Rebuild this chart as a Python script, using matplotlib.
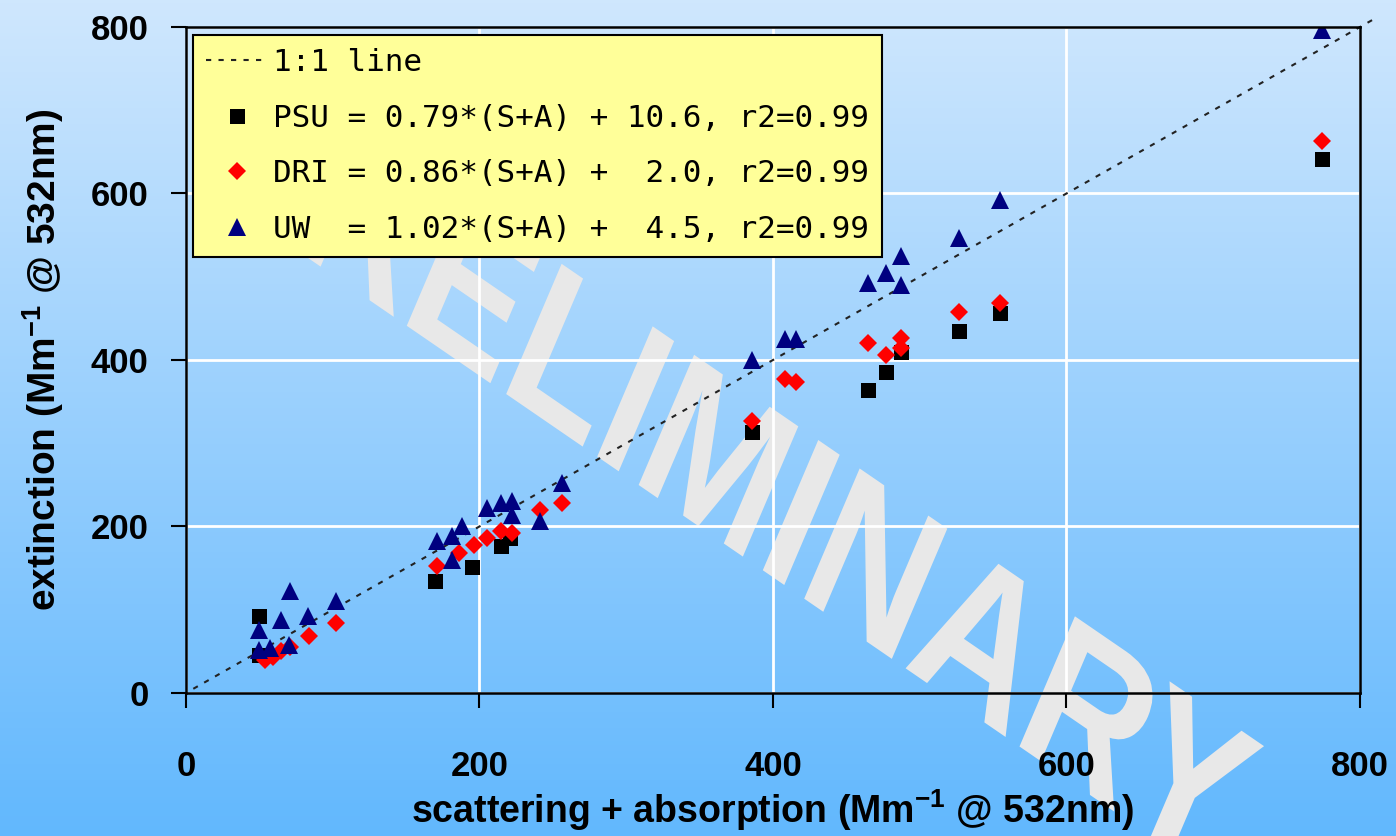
import numpy as np
import matplotlib.pyplot as plt
import matplotlib.transforms as mtransforms
from matplotlib.colors import LinearSegmentedColormap
from matplotlib.textpath import TextPath
from matplotlib.patches import PathPatch
from matplotlib.font_manager import FontProperties

# scattering + absorption (x) vs. measured extinction (y), Mm-1 @ 532nm
psu_x = [50, 50, 170, 195, 215, 221, 386, 465, 477, 487, 527, 555, 774]
psu_y = [92, 46, 134, 151, 177, 186, 313, 364, 386, 410, 435, 456, 641]

dri_x = [54, 59, 65, 71, 84, 102, 171, 186, 196, 205, 215, 222, 241, 256,
         386, 408, 416, 465, 477, 487, 487, 527, 555, 774]
dri_y = [40, 43, 50, 55, 68, 84, 152, 168, 178, 186, 194, 192, 220, 228,
         327, 377, 374, 420, 406, 426, 414, 458, 468, 663]

uw_x = [50, 50, 57, 65, 70, 71, 83, 102, 171, 181, 181, 188, 205, 215, 222,
        222, 241, 256, 386, 408, 416, 465, 477, 487, 487, 527, 555, 774]
uw_y = [76, 52, 54, 88, 58, 122, 92, 110, 182, 160, 188, 200, 222, 228, 230,
        214, 206, 252, 400, 425, 425, 492, 504, 525, 490, 547, 592, 797]

one_x = [5, 812]
one_y = [5, 812]

labels = ["1:1 line",
          "PSU = 0.79*(S+A) + 10.6, r2=0.99",
          "DRI = 0.86*(S+A) +  2.0, r2=0.99",
          "UW  = 1.02*(S+A) +  4.5, r2=0.99"]

ticks = [0, 200, 400, 600, 800]

plt.rcParams['font.family'] = 'Liberation Sans'
plt.rcParams['mathtext.fontset'] = 'custom'
plt.rcParams['mathtext.rm'] = 'Liberation Sans:bold'
plt.rcParams['mathtext.bf'] = 'Liberation Sans:bold'

fig = plt.figure(figsize=(13.96, 8.36), dpi=100)

# sky-blue gradient behind everything
bg = fig.add_axes([0, 0, 1, 1], zorder=-10)
sky = LinearSegmentedColormap.from_list('sky', ['#cfe7fd', '#62b8fe'])
bg.imshow(np.linspace(0, 1, 256)[:, None], aspect='auto', cmap=sky,
          extent=[0, 1, 0, 1])
bg.axis('off')

ax = fig.add_axes([0.1332, 0.1711, 0.8410, 0.7966])
ax.set_facecolor('none')
ax.set_xlim(0, 800)
ax.set_ylim(0, 800)
ax.set_xticks(ticks)
ax.set_yticks(ticks)
ax.grid(True, color='white', lw=2, zorder=0)
ax.set_axisbelow(True)

# slanted, slightly sheared watermark, sitting on the background layer
tp = TextPath((0, 0), "PRELIMINARY", size=122,
              prop=FontProperties(family='Liberation Sans', weight='bold'))
ext = tp.get_extents()
wm_tr = (mtransforms.Affine2D()
         .translate(-(ext.x0 + ext.x1) / 2, -(ext.y0 + ext.y1) / 2)
         .scale(1 / 72).rotate_deg(-28.4).scale(1, 1.27)
         + fig.dpi_scale_trans
         + mtransforms.ScaledTranslation(372, 274, ax.transData))
bg.add_patch(PathPatch(tp, transform=wm_tr, facecolor='#e8e8e8',
                       edgecolor='none', clip_on=False, zorder=5))

line, = ax.plot(one_x, one_y, ls=(0, (2.5, 3.5)), color='#222222', lw=1.5,
                clip_on=False, zorder=2)
h1, = ax.plot(psu_x, psu_y, 's', color='black', ms=10.8, mew=0, zorder=3)
h2, = ax.plot(dri_x, dri_y, 'D', color='red', ms=8.7, mew=0, zorder=4)
h3, = ax.plot(uw_x, uw_y, '^', color='#000080', ms=12.5, mew=0, zorder=5)

leg = ax.legend([line, h1, h2, h3], labels, loc='upper left',
                bbox_to_anchor=(0.006, 0.988), borderaxespad=0,
                prop={'family': 'DejaVu Sans Mono', 'size': 22.3},
                fancybox=False, framealpha=1, facecolor='#ffff99',
                edgecolor='black', handlelength=2.0, handletextpad=0.15,
                labelspacing=0.86, borderpad=0.42)
leg.get_frame().set_linewidth(1.5)
leg.set_zorder(10)

for s in ax.spines.values():
    s.set_linewidth(1.8)
    s.set_zorder(6)

ax.tick_params(direction='out', length=11, width=1.5, labelsize=25)
ax.tick_params(axis='x', pad=30)
ax.tick_params(axis='y', pad=16)
for lbl in ax.get_xticklabels() + ax.get_yticklabels():
    lbl.set_fontweight('bold')

ax.set_xlabel(r"scattering + absorption (Mm$^{-1}$ @ 532nm)", fontsize=27,
              fontweight='bold', labelpad=3)
ax.set_ylabel(r"extinction (Mm$^{-1}$ @ 532nm)", fontsize=28,
              fontweight='bold', labelpad=18)

fig.savefig('out.png', dpi=100)
